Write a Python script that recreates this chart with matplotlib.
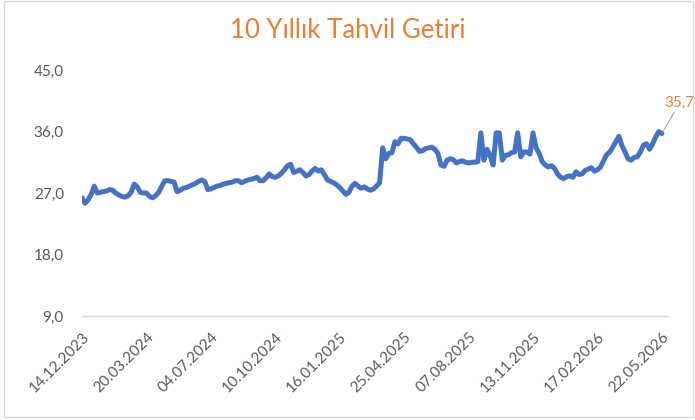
import numpy as np
import matplotlib.pyplot as plt
from matplotlib.patches import Rectangle

# Title and axis labels
title = "10 Yıllık Tahvil Getiri"
date_labels = ["14.12.2023", "20.03.2024", "04.07.2024", "10.10.2024", "16.01.2025",
               "25.04.2025", "07.08.2025", "13.11.2025", "17.02.2026", "22.05.2026"]
y_ticks = [9.0, 18.0, 27.0, 36.0, 45.0]

yields = [
    26.3, 25.5, 26.0, 26.8, 28.0, 27.0, 27.1, 27.2, 27.3, 27.5,
    27.4, 27.0, 26.7, 26.5, 26.4, 26.6, 27.1, 28.3, 27.9, 27.1,
    27.0, 27.0, 26.5, 26.3, 26.6, 27.1, 28.0, 28.8, 28.8, 28.7,
    28.6, 27.2, 27.4, 27.7, 27.8, 28.0, 28.2, 28.4, 28.7, 28.9,
    28.7, 27.5, 27.6, 27.8, 28.0, 28.1, 28.3, 28.4, 28.5, 28.6,
    28.8, 28.8, 28.5, 28.7, 28.9, 29.0, 29.1, 29.3, 28.8, 28.8,
    29.2, 29.8, 29.4, 29.3, 29.5, 29.9, 30.4, 31.0, 31.2, 30.0,
    30.2, 30.4, 30.0, 29.5, 29.7, 30.2, 30.6, 30.2, 30.4, 29.7,
    28.9, 28.7, 28.5, 28.2, 27.8, 27.3, 26.8, 27.1, 28.0, 28.4,
    28.0, 27.7, 27.9, 27.6, 27.4, 27.6, 28.0, 28.5, 33.6, 32.0,
    32.8, 32.9, 34.5, 34.2, 35.0, 35.0, 34.9, 34.8, 34.2, 33.7,
    33.1, 33.2, 33.5, 33.6, 33.7, 33.4, 32.8, 31.1, 30.9, 31.8,
    32.0, 31.9, 31.4, 31.6, 31.7, 31.5, 31.4, 31.5, 31.5, 31.6,
    35.8, 31.8, 33.4, 32.5, 31.1, 35.8, 35.8, 31.8, 32.5, 32.6,
    32.9, 33.0, 35.8, 32.3, 33.0, 33.0, 32.7, 35.8, 33.6, 32.8,
    31.6, 31.1, 30.8, 31.0, 30.6, 29.8, 29.3, 29.1, 29.4, 29.5,
    29.3, 30.1, 29.7, 29.8, 30.3, 30.5, 30.7, 30.2, 30.4, 30.8,
    31.7, 32.6, 33.0, 33.7, 34.5, 35.3, 33.9, 33.0, 32.0, 31.8,
    32.2, 32.3, 33.0, 34.0, 34.2, 33.4, 34.2, 35.2, 36.0, 35.7,
]

LINE_COLOR = "#4472C4"
ORANGE = "#ED7D31"
GRAY_TEXT = "#595959"
plt.rcParams['font.family'] = ['Lato', 'DejaVu Sans']

fig = plt.figure(figsize=(6.95, 4.2), dpi=100)
fig.patches.append(Rectangle((4 / 695, 3 / 420), 1 - 6 / 695, 1 - 4 / 420, transform=fig.transFigure,
                             fill=False, edgecolor="#d9d9d9", linewidth=1.0))

ax = fig.add_axes([82 / 695, 104 / 420, 586 / 695, 246 / 420])
x = np.arange(len(yields))
ax.plot(x, yields, color=LINE_COLOR, linewidth=3.6, solid_joinstyle='round', solid_capstyle='round')

step = (len(yields) - 1) // (len(date_labels) - 1)
ax.set_xticks(np.arange(len(date_labels)) * step)
ax.set_xticklabels(date_labels, rotation=45, ha='right', va='top', rotation_mode='anchor',
                   fontsize=11, color=GRAY_TEXT)
ax.set_xlim(0, len(yields) + 1)
ax.set_ylim(y_ticks[0], y_ticks[-1])
ax.set_yticks(y_ticks)
ax.set_yticklabels([f"{v:.1f}".replace(".", ",") for v in y_ticks], fontsize=11, color=GRAY_TEXT)
ax.tick_params(axis='both', length=0)
ax.tick_params(axis='y', pad=13)
ax.tick_params(axis='x', pad=10)

for side in ['top', 'right', 'left']:
    ax.spines[side].set_visible(False)
ax.spines['bottom'].set_color("#d9d9d9")
ax.spines['bottom'].set_linewidth(1.0)

# last value label with leader line
last = len(yields) - 1
ax.annotate(f"{yields[-1]:.1f}".replace(".", ","), xy=(last, yields[-1]), xytext=(18, 24),
            textcoords='offset pixels', color=ORANGE, fontsize=11, ha='center', va='bottom',
            arrowprops=dict(arrowstyle='-', color='#a6a6a6', linewidth=0.8, shrinkA=0, shrinkB=2),
            annotation_clip=False)

fig.text(0.5, 1 - 30 / 420, title, ha='center', va='center', fontsize=18.5, color=ORANGE)

fig.savefig("out.png", dpi=100)
